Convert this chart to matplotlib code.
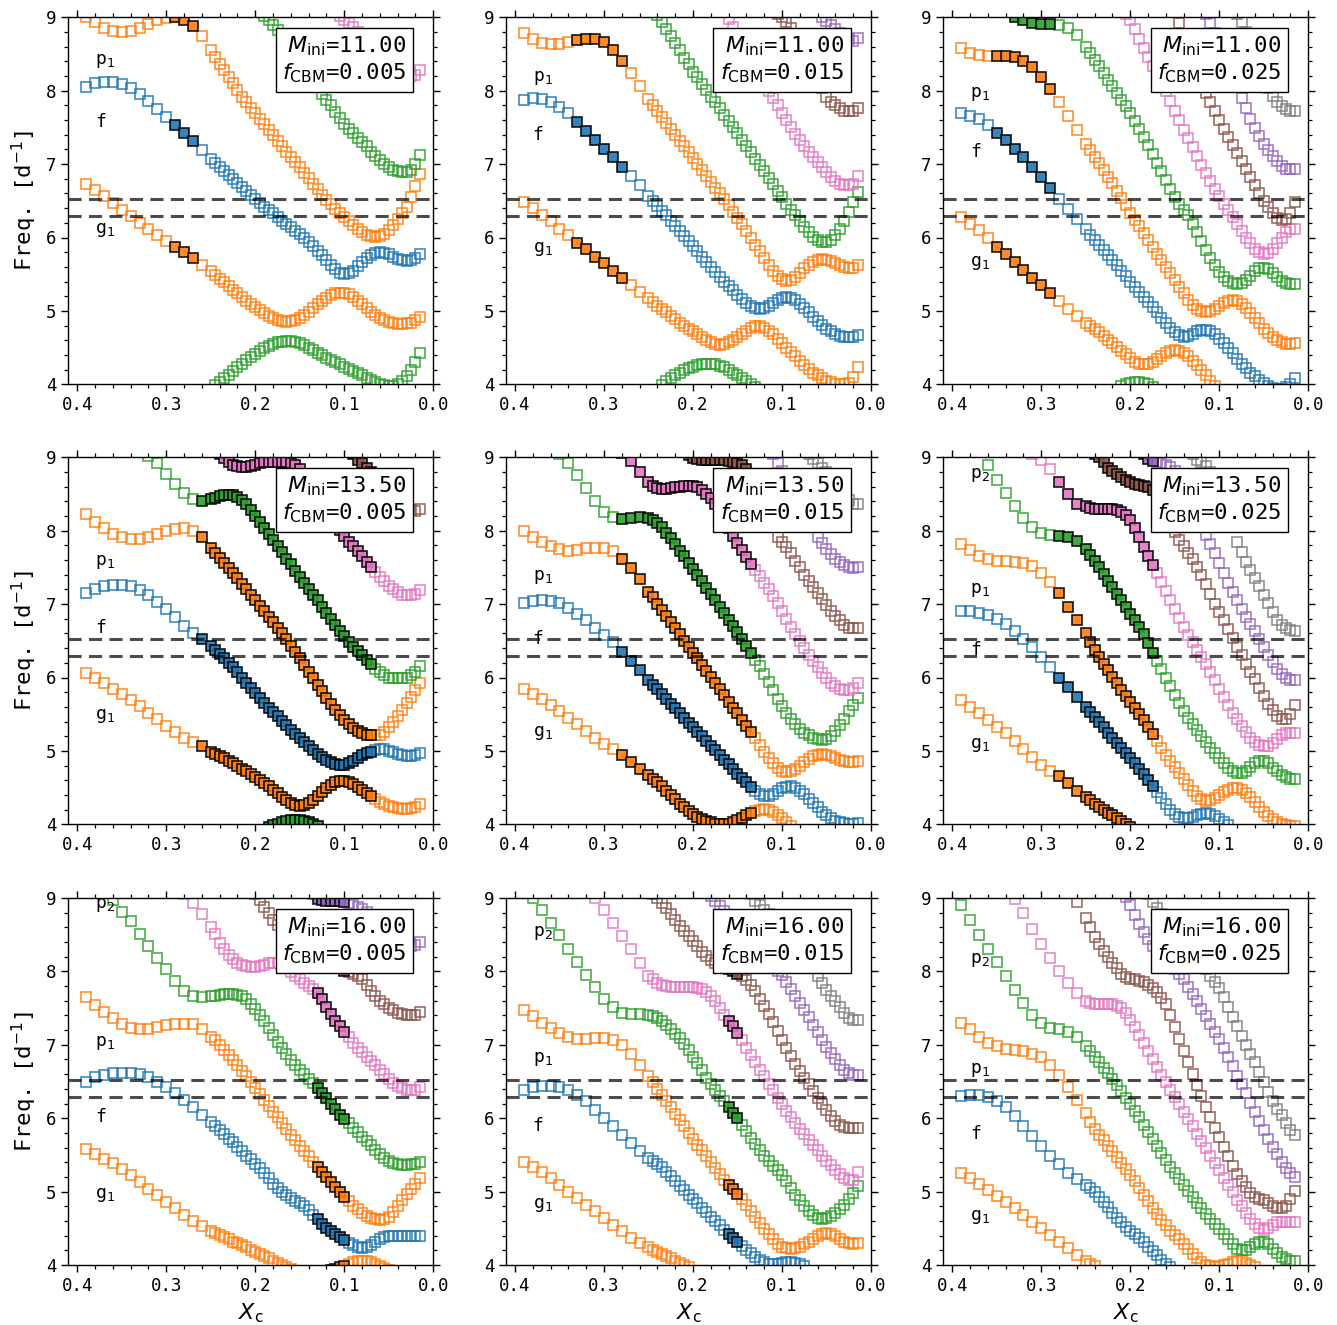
import numpy as np
import matplotlib
matplotlib.use("Agg")
import matplotlib.pyplot as plt
from matplotlib.ticker import MultipleLocator

plt.rcParams['font.family'] = ['DejaVu Sans Mono', 'DejaVu Sans']
plt.rcParams['mathtext.fontset'] = 'dejavusans'

# ---------------- model grid (core hydrogen fraction X_c) ----------------
XC = [0.39, 0.38, 0.37, 0.36, 0.35, 0.34, 0.33, 0.32, 0.31, 0.30, 0.29, 0.28, 0.27, 0.26, 0.25,
      0.245, 0.24, 0.235, 0.23, 0.225, 0.22, 0.215, 0.21, 0.205, 0.20,
      0.195, 0.19, 0.185, 0.18, 0.175, 0.17, 0.165, 0.16, 0.155, 0.15,
      0.145, 0.14, 0.135, 0.13, 0.125, 0.12, 0.115, 0.11, 0.105, 0.10,
      0.095, 0.09, 0.085, 0.08, 0.075, 0.07, 0.065, 0.06, 0.055, 0.05,
      0.045, 0.04, 0.035, 0.03, 0.025, 0.02, 0.015]

OBS_FREQ = [6.52, 6.29]

# ---------------- M=11.00, f=0.005 ----------------
A_g1 = [6.73, 6.65, 6.56, 6.47, 6.38, 6.29, 6.20, 6.11, 6.03, 5.95, 5.87, 5.80, 5.72, 5.63, 5.54,
        5.49, 5.44, 5.39, 5.34, 5.29, 5.24, 5.19, 5.14, 5.10, 5.05,
        5.01, 4.97, 4.93, 4.90, 4.87, 4.86, 4.85, 4.86, 4.88, 4.91,
        4.95, 4.99, 5.04, 5.09, 5.14, 5.18, 5.22, 5.24, 5.25, 5.25,
        5.23, 5.19, 5.14, 5.09, 5.04, 4.99, 4.95, 4.91, 4.88, 4.85,
        4.83, 4.82, 4.82, 4.83, 4.84, 4.87, 4.92]
A_f = [8.05, 8.10, 8.12, 8.12, 8.09, 8.03, 7.95, 7.86, 7.75, 7.64, 7.53, 7.43, 7.31, 7.19, 7.07,
       7.01, 6.96, 6.91, 6.85, 6.80, 6.74, 6.69, 6.63, 6.58, 6.52,
       6.47, 6.42, 6.37, 6.33, 6.28, 6.23, 6.18, 6.14, 6.09, 6.05,
       6.00, 5.94, 5.88, 5.82, 5.76, 5.70, 5.63, 5.57, 5.52, 5.50,
       5.51, 5.55, 5.61, 5.67, 5.72, 5.76, 5.79, 5.80, 5.79, 5.77,
       5.74, 5.71, 5.69, 5.68, 5.69, 5.72, 5.77]
A_p1 = [9.00, 8.93, 8.86, 8.81, 8.80, 8.82, 8.86, 8.91, 8.96, 8.99, 9.00, 8.97, 8.88, 8.74, 8.55,
        8.46, 8.37, 8.28, 8.19, 8.10, 8.01, 7.92, 7.84, 7.77, 7.70,
        7.62, 7.54, 7.47, 7.39, 7.32, 7.25, 7.17, 7.10, 7.03, 6.96,
        6.88, 6.81, 6.73, 6.66, 6.58, 6.51, 6.45, 6.39, 6.33, 6.28,
        6.22, 6.17, 6.12, 6.07, 6.04, 6.02, 6.01, 6.02, 6.05, 6.10,
        6.17, 6.25, 6.33, 6.42, 6.55, 6.70, 6.86]
A_p2 = [9.08, 9.02, 8.96, 8.90, 8.83, 8.76, 8.68, 8.60, 8.52, 8.44,
        8.35, 8.26, 8.16, 8.06, 7.96, 7.88, 7.80, 7.71, 7.63, 7.55,
        7.48, 7.42, 7.36, 7.30, 7.24, 7.17, 7.11, 7.05, 7.00, 6.96,
        6.92, 6.90, 6.89, 6.89, 6.92, 7.00, 7.12]
A_g2 = [3.99, 4.03, 4.08, 4.13, 4.18, 4.23, 4.28, 4.33, 4.37, 4.41,
        4.45, 4.49, 4.52, 4.55, 4.57, 4.58, 4.59, 4.59, 4.58, 4.56,
        4.53, 4.50, 4.47, 4.43, 4.40, 4.36, 4.33, 4.30, 4.27, 4.24,
        4.21, 4.18, 4.15, 4.12, 4.09, 4.06, 4.03, 4.01, 3.99, 3.98,
        3.98, 4.00, 4.05, 4.11, 4.20, 4.30, 4.42]
A_p3 = [9.02, 8.97, 8.92, 8.87, 8.80, 8.73, 8.66, 8.60, 8.53, 8.47,
        8.42, 8.37, 8.32, 8.28, 8.25, 8.22, 8.20, 8.21, 8.28]

# ---------------- M=11.00, f=0.015 ----------------
B_g1 = [6.49, 6.40, 6.31, 6.22, 6.12, 6.03, 5.93, 5.84, 5.74, 5.65, 5.55, 5.45, 5.35, 5.26, 5.17,
        5.12, 5.07, 5.02, 4.98, 4.93, 4.89, 4.84, 4.80, 4.76, 4.72,
        4.68, 4.64, 4.60, 4.57, 4.55, 4.54, 4.55, 4.57, 4.60, 4.64,
        4.68, 4.73, 4.77, 4.79, 4.79, 4.77, 4.73, 4.68, 4.62, 4.56,
        4.50, 4.44, 4.38, 4.32, 4.26, 4.21, 4.16, 4.12, 4.08, 4.05,
        4.03, 4.01, 4.00, 4.00, 4.02, 4.10, 4.24]
B_f = [7.88, 7.90, 7.89, 7.85, 7.78, 7.69, 7.57, 7.45, 7.33, 7.21, 7.09, 6.96, 6.84, 6.71, 6.57,
       6.50, 6.43, 6.36, 6.30, 6.23, 6.16, 6.09, 6.02, 5.95, 5.88,
       5.81, 5.74, 5.67, 5.60, 5.53, 5.46, 5.40, 5.34, 5.28, 5.22,
       5.16, 5.11, 5.07, 5.04, 5.03, 5.04, 5.07, 5.11, 5.15, 5.18,
       5.19, 5.18, 5.15, 5.10, 5.04, 4.98, 4.92, 4.86, 4.81, 4.76,
       4.72, 4.69, 4.66, 4.65, 4.64, 4.65, 4.67]
B_p1 = [8.78, 8.70, 8.65, 8.63, 8.63, 8.66, 8.69, 8.71, 8.71, 8.66, 8.56, 8.41, 8.24, 8.06, 7.89,
        7.80, 7.72, 7.64, 7.56, 7.48, 7.40, 7.32, 7.24, 7.16, 7.08,
        7.00, 6.92, 6.84, 6.76, 6.68, 6.60, 6.52, 6.44, 6.35, 6.27,
        6.18, 6.09, 5.99, 5.90, 5.81, 5.72, 5.63, 5.55, 5.48, 5.43,
        5.41, 5.42, 5.46, 5.52, 5.58, 5.63, 5.67, 5.70, 5.71, 5.70,
        5.68, 5.65, 5.62, 5.60, 5.59, 5.59, 5.62]
B_p2 = [9.03, 8.93, 8.84, 8.74, 8.65, 8.55, 8.45, 8.36, 8.26,
        8.18, 8.09, 8.01, 7.92, 7.84, 7.76, 7.67, 7.59, 7.50, 7.42,
        7.33, 7.25, 7.16, 7.07, 6.99, 6.90, 6.81, 6.73, 6.64, 6.55,
        6.46, 6.38, 6.30, 6.22, 6.14, 6.07, 6.01, 5.96, 5.94, 5.94,
        5.97, 6.03, 6.12, 6.23, 6.35, 6.48, 6.62]
B_g2 = [3.99, 4.04, 4.08, 4.12, 4.16, 4.19, 4.22, 4.24, 4.26, 4.27, 4.28,
        4.28, 4.27, 4.25, 4.23, 4.20, 4.16, 4.12, 4.08, 4.04, 4.00, 3.96]
B_p3 = [9.08, 8.98, 8.87, 8.76, 8.65, 8.54, 8.43, 8.32, 8.21, 8.10, 8.00,
        7.90, 7.80, 7.70, 7.60, 7.50, 7.41, 7.33, 7.25, 7.17, 7.10,
        7.03, 6.96, 6.89, 6.82, 6.77, 6.73, 6.71, 6.71, 6.73, 6.84]
B_p4 = [9.05, 9.00, 8.93, 8.85, 8.77, 8.68, 8.58, 8.47, 8.33, 8.18,
        8.03, 7.92, 7.85, 7.80, 7.76, 7.73, 7.72, 7.72, 7.76]
B_p5 = [9.00, 8.95, 8.90, 8.84, 8.78, 8.73, 8.70, 8.68, 8.72]

# ---------------- M=11.00, f=0.025 ----------------
C_g1 = [6.28, 6.19, 6.10, 6.00, 5.87, 5.77, 5.67, 5.56, 5.45, 5.35, 5.24, 5.13, 5.03, 4.93, 4.84,
        4.80, 4.76, 4.71, 4.66, 4.61, 4.56, 4.51, 4.46, 4.41, 4.36,
        4.31, 4.28, 4.27, 4.28, 4.31, 4.35, 4.39, 4.43, 4.46, 4.47,
        4.46, 4.43, 4.38, 4.32, 4.26, 4.19, 4.12, 4.05, 3.98]
C_f = [7.69, 7.66, 7.61, 7.53, 7.43, 7.33, 7.21, 7.09, 6.96, 6.83, 6.68, 6.53, 6.39, 6.25, 6.11,
       6.04, 5.97, 5.90, 5.83, 5.76, 5.69, 5.62, 5.55, 5.48, 5.40,
       5.33, 5.26, 5.19, 5.12, 5.05, 4.98, 4.91, 4.84, 4.77, 4.71,
       4.67, 4.65, 4.66, 4.69, 4.72, 4.74, 4.74, 4.72, 4.68, 4.62,
       4.56, 4.49, 4.42, 4.35, 4.28, 4.22, 4.16, 4.11, 4.06, 4.02,
       3.98, 3.95, 3.93, 3.93, 3.96, 4.00, 4.08]
C_p1 = [8.58, 8.52, 8.48, 8.47, 8.47, 8.47, 8.46, 8.41, 8.32, 8.19, 8.02, 7.84, 7.65, 7.46, 7.28,
        7.19, 7.10, 7.01, 6.92, 6.83, 6.74, 6.64, 6.54, 6.44, 6.34,
        6.24, 6.15, 6.06, 5.96, 5.87, 5.78, 5.69, 5.60, 5.51, 5.42,
        5.33, 5.24, 5.15, 5.08, 5.03, 5.00, 4.99, 5.00, 5.03, 5.07,
        5.11, 5.14, 5.15, 5.14, 5.10, 5.04, 4.97, 4.90, 4.83, 4.76,
        4.70, 4.65, 4.60, 4.57, 4.55, 4.55, 4.56]
C_p2 = [9.01, 8.96, 8.92, 8.91, 8.91, 8.90, 8.86, 8.76, 8.60,
        8.51, 8.42, 8.33, 8.24, 8.15, 8.06, 7.97, 7.88, 7.79, 7.70,
        7.59, 7.48, 7.37, 7.26, 7.14, 7.02, 6.90, 6.78, 6.66, 6.55,
        6.46, 6.38, 6.30, 6.19, 6.07, 5.95, 5.83, 5.72, 5.62, 5.53,
        5.46, 5.41, 5.38, 5.37, 5.38, 5.42, 5.48, 5.54, 5.58, 5.59,
        5.57, 5.52, 5.46, 5.41, 5.38, 5.37, 5.37]
C_g2 = [3.98, 4.00, 4.02, 4.03, 4.03, 4.02, 4.00, 3.97]
C_p3 = [9.05, 8.96, 8.84, 8.71, 8.58, 8.46, 8.34, 8.23, 8.11, 7.99,
        7.86, 7.73, 7.60, 7.47, 7.35, 7.23, 7.11, 6.99, 6.88, 6.77,
        6.66, 6.56, 6.46, 6.37, 6.28, 6.18, 6.09, 6.00, 5.92, 5.85,
        5.80, 5.78, 5.79, 5.84, 5.92, 6.00, 6.07, 6.11, 6.12]
C_p4 = [9.08, 8.92, 8.76, 8.60, 8.44, 8.28, 8.12, 7.97, 7.84, 7.72,
        7.60, 7.48, 7.37, 7.26, 7.15, 7.04, 6.93, 6.82, 6.71, 6.60,
        6.50, 6.41, 6.33, 6.27, 6.24, 6.25, 6.33, 6.48]
C_p5 = [9.04, 8.92, 8.78, 8.64, 8.50, 8.36, 8.22, 8.06, 7.90, 7.76, 7.62,
        7.49, 7.38, 7.28, 7.19, 7.11, 7.04, 6.98, 6.94, 6.93, 6.93]
C_p6 = [9.05, 8.93, 8.80, 8.66, 8.50, 8.34, 8.18, 8.03, 7.93, 7.85, 7.79, 7.75, 7.73, 7.73]

# ---------------- M=13.50, f=0.005 ----------------
D_g1 = [6.06, 5.99, 5.92, 5.85, 5.77, 5.69, 5.61, 5.52, 5.43, 5.34, 5.26, 5.18, 5.12, 5.07, 4.99,
        4.96, 4.93, 4.90, 4.86, 4.83, 4.79, 4.76, 4.72, 4.69, 4.65,
        4.61, 4.56, 4.52, 4.47, 4.42, 4.37, 4.33, 4.29, 4.26, 4.25,
        4.26, 4.29, 4.33, 4.38, 4.44, 4.50, 4.54, 4.57, 4.59, 4.59,
        4.58, 4.55, 4.51, 4.47, 4.43, 4.39, 4.35, 4.31, 4.28, 4.25,
        4.23, 4.22, 4.21, 4.21, 4.22, 4.24, 4.27]
D_f = [7.15, 7.20, 7.24, 7.26, 7.26, 7.24, 7.19, 7.12, 7.03, 6.93, 6.82, 6.70, 6.60, 6.52, 6.43,
       6.38, 6.32, 6.26, 6.20, 6.14, 6.07, 6.00, 5.93, 5.86, 5.79,
       5.72, 5.65, 5.59, 5.53, 5.47, 5.41, 5.35, 5.29, 5.23, 5.17,
       5.12, 5.06, 5.01, 4.96, 4.92, 4.88, 4.85, 4.82, 4.81, 4.81,
       4.83, 4.86, 4.90, 4.94, 4.97, 4.99, 5.01, 5.02, 5.02, 5.00,
       4.98, 4.96, 4.94, 4.93, 4.93, 4.94, 4.97]
D_p1 = [8.23, 8.12, 8.04, 7.96, 7.91, 7.89, 7.89, 7.91, 7.95, 7.99, 8.02, 8.03, 7.99, 7.92, 7.77,
        7.70, 7.63, 7.56, 7.49, 7.42, 7.35, 7.28, 7.21, 7.13, 7.06,
        6.98, 6.91, 6.83, 6.76, 6.68, 6.60, 6.52, 6.43, 6.35, 6.26,
        6.17, 6.08, 5.99, 5.90, 5.81, 5.72, 5.64, 5.56, 5.49, 5.42,
        5.36, 5.31, 5.27, 5.24, 5.22, 5.21, 5.21, 5.22, 5.26, 5.32,
        5.39, 5.47, 5.56, 5.65, 5.74, 5.83, 5.93]
D_p2 = [9.02, 8.92, 8.77, 8.63, 8.51, 8.43, 8.41, 8.43,
        8.45, 8.47, 8.48, 8.49, 8.48, 8.46, 8.42, 8.36, 8.28, 8.20,
        8.12, 8.04, 7.96, 7.88, 7.79, 7.71, 7.62, 7.54, 7.45, 7.37,
        7.29, 7.21, 7.13, 7.05, 6.96, 6.88, 6.80, 6.72, 6.64, 6.56,
        6.49, 6.42, 6.36, 6.30, 6.24, 6.18, 6.12, 6.07, 6.03, 6.00,
        5.99, 5.99, 5.99, 6.00, 6.03, 6.08, 6.15]
D_g2 = [3.97, 3.99, 4.01, 4.03, 4.05, 4.06, 4.06, 4.06, 4.05, 4.03, 4.01, 3.98]
D_p3 = [9.05, 8.99, 8.94, 8.90, 8.88, 8.87, 8.87, 8.88, 8.90,
        8.92, 8.93, 8.94, 8.94, 8.94, 8.94, 8.93, 8.92, 8.89, 8.84,
        8.77, 8.69, 8.60, 8.51, 8.41, 8.31, 8.20, 8.10, 8.01, 7.93,
        7.85, 7.79, 7.72, 7.65, 7.58, 7.51, 7.44, 7.37, 7.31, 7.25,
        7.20, 7.16, 7.13, 7.12, 7.12, 7.14, 7.19]
D_p4 = [9.05, 8.97, 8.92, 8.86, 8.80, 8.73, 8.66, 8.59, 8.52, 8.46, 8.40, 8.35, 8.31, 8.28, 8.27, 8.30]

# ---------------- M=13.50, f=0.015 ----------------
E_g1 = [5.85, 5.78, 5.71, 5.63, 5.54, 5.45, 5.36, 5.27, 5.18, 5.10, 5.02, 4.94, 4.85, 4.76, 4.67,
        4.62, 4.57, 4.52, 4.46, 4.40, 4.34, 4.28, 4.23, 4.18, 4.14,
        4.10, 4.07, 4.05, 4.03, 4.01, 4.00, 4.00, 4.01, 4.03, 4.06,
        4.09, 4.12, 4.15, 4.18, 4.20, 4.21, 4.20, 4.17, 4.13, 4.08,
        4.03, 3.98]
E_f = [7.02, 7.04, 7.05, 7.04, 7.01, 6.95, 6.87, 6.78, 6.68, 6.58, 6.48, 6.35, 6.22, 6.10, 5.97,
       5.90, 5.84, 5.77, 5.71, 5.64, 5.58, 5.51, 5.45, 5.38, 5.32,
       5.26, 5.20, 5.13, 5.07, 5.01, 4.94, 4.88, 4.82, 4.76, 4.69,
       4.63, 4.57, 4.51, 4.45, 4.41, 4.39, 4.39, 4.41, 4.45, 4.49,
       4.51, 4.52, 4.50, 4.46, 4.41, 4.35, 4.29, 4.23, 4.17, 4.12,
       4.08, 4.05, 4.03, 4.02, 4.01, 4.01, 4.02]
E_p1 = [8.00, 7.92, 7.85, 7.79, 7.75, 7.73, 7.74, 7.76, 7.77, 7.77, 7.73, 7.62, 7.49, 7.34, 7.17,
        7.09, 7.00, 6.92, 6.84, 6.75, 6.67, 6.59, 6.50, 6.42, 6.34,
        6.26, 6.17, 6.09, 6.01, 5.92, 5.84, 5.76, 5.67, 5.59, 5.51,
        5.42, 5.34, 5.26, 5.17, 5.08, 4.99, 4.91, 4.83, 4.77, 4.73,
        4.71, 4.72, 4.75, 4.80, 4.85, 4.89, 4.93, 4.95, 4.96, 4.95,
        4.93, 4.90, 4.87, 4.86, 4.85, 4.85, 4.86]
E_p2 = [9.05, 8.92, 8.76, 8.58, 8.40, 8.25, 8.18, 8.16, 8.17, 8.18, 8.17,
        8.15, 8.11, 8.05, 7.97, 7.90, 7.82, 7.73, 7.65, 7.56, 7.48,
        7.39, 7.31, 7.22, 7.14, 7.05, 6.96, 6.88, 6.79, 6.70, 6.62,
        6.53, 6.43, 6.33, 6.24, 6.15, 6.05, 5.94, 5.83, 5.71, 5.61,
        5.52, 5.43, 5.36, 5.30, 5.25, 5.21, 5.18, 5.16, 5.15, 5.16,
        5.20, 5.27, 5.35, 5.44, 5.54, 5.63, 5.72]
E_p3 = [9.06, 8.95, 8.80, 8.67,
        8.61, 8.58, 8.57, 8.57, 8.58, 8.59, 8.60, 8.61, 8.61, 8.61,
        8.59, 8.55, 8.50, 8.44, 8.36, 8.26, 8.15, 8.04, 7.93, 7.83,
        7.74, 7.64, 7.55, 7.46, 7.38, 7.29, 7.20, 7.11, 7.01, 6.90,
        6.80, 6.69, 6.59, 6.50, 6.40, 6.31, 6.22, 6.14, 6.06, 5.99,
        5.93, 5.88, 5.85, 5.83, 5.83, 5.86, 5.92]
E_p4 = [9.03, 8.99, 8.98, 8.97, 8.97, 8.97, 8.97, 8.96, 8.96, 8.95,
        8.94, 8.92, 8.89, 8.84, 8.77, 8.68, 8.56, 8.42, 8.26, 8.08,
        7.92, 7.85, 7.78, 7.69, 7.59, 7.50, 7.40, 7.32, 7.23, 7.15,
        7.07, 6.99, 6.91, 6.84, 6.78, 6.72, 6.68, 6.67, 6.68]
E_p5 = [9.05, 8.92, 8.82, 8.72, 8.62, 8.52, 8.42, 8.31, 8.19, 8.06,
        7.92, 7.83, 7.75, 7.68, 7.62, 7.57, 7.53, 7.50, 7.49, 7.51]
E_p6 = [9.05, 8.98, 8.92, 8.86, 8.80, 8.73, 8.65, 8.57, 8.49, 8.42, 8.37, 8.36]

# ---------------- M=13.50, f=0.025 ----------------
F_g1 = [5.69, 5.60, 5.51, 5.42, 5.33, 5.24, 5.13, 5.02, 4.92, 4.81, 4.73, 4.66, 4.56, 4.46, 4.37,
        4.33, 4.28, 4.24, 4.20, 4.16, 4.12, 4.08, 4.04, 4.01, 3.97]
F_f = [6.90, 6.90, 6.88, 6.85, 6.80, 6.73, 6.64, 6.53, 6.41, 6.28, 6.14, 6.00, 5.87, 5.74, 5.60,
       5.53, 5.46, 5.39, 5.32, 5.25, 5.18, 5.11, 5.04, 4.97, 4.90,
       4.83, 4.75, 4.68, 4.60, 4.52, 4.44, 4.36, 4.28, 4.20, 4.14,
       4.10, 4.08, 4.08, 4.10, 4.12, 4.14, 4.15, 4.14, 4.11, 4.07,
       4.03, 3.99]
F_p1 = [7.82, 7.74, 7.65, 7.61, 7.59, 7.59, 7.58, 7.56, 7.52, 7.42, 7.30, 7.15, 6.96, 6.78, 6.60,
        6.48, 6.37, 6.28, 6.19, 6.10, 6.01, 5.92, 5.83, 5.75, 5.66,
        5.58, 5.50, 5.42, 5.33, 5.23, 5.13, 5.04, 4.95, 4.86, 4.78,
        4.70, 4.62, 4.54, 4.46, 4.39, 4.34, 4.32, 4.33, 4.36, 4.40,
        4.44, 4.47, 4.49, 4.49, 4.47, 4.43, 4.37, 4.30, 4.23, 4.17,
        4.11, 4.07, 4.03, 4.01, 3.99, 3.98, 3.98]
F_p2 = [9.08, 8.90, 8.69, 8.51, 8.33, 8.17, 8.05, 7.97, 7.94, 7.93, 7.91, 7.86, 7.75,
        7.67, 7.59, 7.50, 7.41, 7.32, 7.23, 7.14, 7.05, 6.96, 6.87,
        6.78, 6.69, 6.59, 6.47, 6.33, 6.22, 6.12, 6.00, 5.88, 5.76,
        5.65, 5.55, 5.45, 5.36, 5.28, 5.20, 5.12, 5.04, 4.97, 4.90,
        4.83, 4.77, 4.72, 4.70, 4.70, 4.73, 4.78, 4.83, 4.86, 4.86,
        4.83, 4.77, 4.72, 4.67, 4.64, 4.62, 4.62]
F_p3 = [9.05, 8.97, 8.84, 8.67, 8.50, 8.37, 8.33,
        8.31, 8.30, 8.30, 8.30, 8.30, 8.29, 8.28, 8.25, 8.21, 8.14,
        8.04, 7.92, 7.78, 7.65, 7.53, 7.42, 7.30, 7.18, 7.06, 6.94,
        6.81, 6.69, 6.58, 6.48, 6.38, 6.28, 6.18, 6.07, 5.96, 5.85,
        5.74, 5.63, 5.52, 5.43, 5.34, 5.26, 5.18, 5.12, 5.08, 5.06,
        5.07, 5.11, 5.16, 5.21, 5.24, 5.25, 5.25]
F_p4 = [9.05, 9.00, 8.93, 8.86, 8.81, 8.77, 8.73, 8.69, 8.66,
        8.64, 8.62, 8.61, 8.59, 8.55, 8.48, 8.38, 8.26, 8.12, 7.98,
        7.88, 7.79, 7.70, 7.61, 7.51, 7.39, 7.27, 7.14, 7.00, 6.89,
        6.78, 6.66, 6.54, 6.42, 6.30, 6.19, 6.08, 5.98, 5.86, 5.75,
        5.64, 5.56, 5.48, 5.43, 5.43, 5.50, 5.62]
F_p5 = [9.05, 8.98, 8.95, 8.93, 8.92, 8.90, 8.87, 8.82,
        8.74, 8.64, 8.52, 8.39, 8.24, 8.08, 7.94, 7.82, 7.70, 7.56,
        7.42, 7.29, 7.17, 7.05, 6.93, 6.83, 6.73, 6.63, 6.53, 6.42,
        6.31, 6.21, 6.12, 6.05, 6.00, 5.97, 5.97]
F_p6 = [9.05, 8.97, 8.93, 8.88, 8.80, 8.69, 8.55, 8.39, 8.22, 8.05, 7.85, 7.71,
        7.58, 7.46, 7.35, 7.24, 7.12, 7.01, 6.89, 6.79, 6.72, 6.68, 6.65, 6.64]

# ---------------- M=16.00, f=0.005 ----------------
G_g1 = [5.58, 5.51, 5.45, 5.39, 5.31, 5.22, 5.13, 5.04, 4.95, 4.86, 4.77, 4.68, 4.60, 4.53, 4.47,
        4.44, 4.41, 4.38, 4.35, 4.32, 4.30, 4.27, 4.24, 4.21, 4.18,
        4.15, 4.12, 4.09, 4.06, 4.03, 4.00, 3.97, 3.94, 3.92, 3.90,
        3.89, 3.88, 3.88, 3.89, 3.90, 3.91, 3.93, 3.95, 3.97, 3.99,
        4.02, 4.04, 4.05, 4.06, 4.05, 4.04, 4.02, 3.99, 3.96, 3.93,
        3.90, 3.88, 3.86, 3.85, 3.85, 3.86, 3.88]
G_f = [6.50, 6.56, 6.59, 6.61, 6.62, 6.62, 6.60, 6.56, 6.50, 6.43, 6.34, 6.25, 6.15, 6.05, 5.95,
       5.90, 5.84, 5.78, 5.72, 5.67, 5.61, 5.55, 5.49, 5.44, 5.38,
       5.32, 5.25, 5.18, 5.11, 5.05, 5.00, 4.96, 4.91, 4.87, 4.84,
       4.80, 4.75, 4.68, 4.62, 4.56, 4.51, 4.46, 4.42, 4.38, 4.34,
       4.30, 4.27, 4.24, 4.23, 4.24, 4.27, 4.31, 4.35, 4.38, 4.40,
       4.40, 4.40, 4.39, 4.39, 4.39, 4.39, 4.40]
G_p1 = [7.65, 7.54, 7.45, 7.36, 7.28, 7.23, 7.21, 7.22, 7.24, 7.27, 7.29, 7.29, 7.28, 7.21, 7.11,
        7.06, 7.00, 6.93, 6.86, 6.79, 6.72, 6.64, 6.57, 6.49, 6.41,
        6.33, 6.25, 6.17, 6.09, 6.01, 5.93, 5.85, 5.77, 5.70, 5.62,
        5.55, 5.48, 5.41, 5.34, 5.27, 5.20, 5.13, 5.06, 4.99, 4.93,
        4.87, 4.81, 4.76, 4.71, 4.67, 4.64, 4.62, 4.61, 4.62, 4.66,
        4.72, 4.80, 4.89, 4.97, 5.04, 5.11, 5.19]
G_p2 = [9.08, 8.97, 8.81, 8.68, 8.51, 8.35, 8.18, 8.03, 7.87, 7.73, 7.67, 7.65, 7.66,
        7.67, 7.68, 7.69, 7.69, 7.69, 7.68, 7.66, 7.62, 7.56, 7.49,
        7.41, 7.32, 7.23, 7.14, 7.04, 6.95, 6.87, 6.79, 6.72, 6.66,
        6.60, 6.54, 6.48, 6.41, 6.34, 6.27, 6.19, 6.12, 6.05, 5.99,
        5.93, 5.87, 5.81, 5.75, 5.69, 5.63, 5.57, 5.51, 5.46, 5.42,
        5.39, 5.37, 5.36, 5.36, 5.37, 5.38, 5.41]
G_p3 = [9.05, 8.93, 8.78, 8.61,
        8.51, 8.39, 8.30, 8.23, 8.17, 8.12, 8.09, 8.07, 8.06, 8.06,
        8.07, 8.09, 8.11, 8.12, 8.11, 8.08, 8.04, 7.99, 7.94, 7.89,
        7.84, 7.80, 7.76, 7.70, 7.62, 7.52, 7.42, 7.33, 7.25, 7.18,
        7.11, 7.03, 6.96, 6.90, 6.84, 6.78, 6.72, 6.66, 6.60, 6.54,
        6.48, 6.44, 6.41, 6.39, 6.38, 6.39, 6.43]
G_p4 = [9.05, 8.97, 8.88, 8.79, 8.70, 8.63, 8.57, 8.52, 8.47, 8.42,
        8.38, 8.34, 8.30, 8.26, 8.22, 8.18, 8.14, 8.10, 8.07, 8.04,
        8.01, 7.99, 7.97, 7.94, 7.89, 7.81, 7.73, 7.66, 7.60, 7.55,
        7.50, 7.47, 7.44, 7.42, 7.41, 7.40, 7.41, 7.45]
G_p5 = [9.05, 8.99, 8.97, 8.96, 8.96, 8.96, 8.96, 8.95, 8.93, 8.91, 8.88, 8.85, 8.81,
        8.76, 8.71, 8.65, 8.59, 8.53, 8.48, 8.43, 8.39, 8.36, 8.35, 8.36, 8.40]

# ---------------- M=16.00, f=0.015 ----------------
H_g1 = [5.41, 5.34, 5.27, 5.18, 5.09, 5.00, 4.91, 4.82, 4.73, 4.64, 4.55, 4.46, 4.37, 4.30, 4.24,
        4.21, 4.18, 4.15, 4.12, 4.09, 4.06, 4.03, 4.00, 3.97]
H_f = [6.39, 6.42, 6.44, 6.44, 6.43, 6.39, 6.32, 6.23, 6.11, 6.00, 5.89, 5.77, 5.66, 5.55, 5.46,
       5.42, 5.38, 5.33, 5.27, 5.21, 5.15, 5.08, 5.02, 4.96, 4.90,
       4.84, 4.78, 4.72, 4.66, 4.60, 4.54, 4.48, 4.42, 4.37, 4.32,
       4.26, 4.21, 4.16, 4.11, 4.07, 4.04, 4.02, 4.01, 4.02, 4.03,
       4.04, 4.04, 4.03, 4.01, 3.98]
H_p1 = [7.48, 7.39, 7.30, 7.23, 7.16, 7.11, 7.08, 7.08, 7.09, 7.09, 7.07, 7.00, 6.88, 6.73, 6.58,
        6.49, 6.40, 6.32, 6.23, 6.15, 6.06, 5.98, 5.89, 5.80, 5.72,
        5.64, 5.56, 5.48, 5.40, 5.32, 5.24, 5.16, 5.09, 5.03, 4.97,
        4.90, 4.82, 4.73, 4.65, 4.57, 4.49, 4.42, 4.35, 4.29, 4.25,
        4.23, 4.22, 4.23, 4.25, 4.28, 4.32, 4.36, 4.40, 4.42, 4.43,
        4.42, 4.39, 4.35, 4.32, 4.30, 4.29, 4.30]
H_p2 = [9.12, 9.00, 8.84, 8.66, 8.49, 8.30, 8.13, 7.95, 7.79, 7.63, 7.51, 7.44, 7.42, 7.42, 7.41,
        7.39, 7.36, 7.32, 7.27, 7.21, 7.15, 7.09, 7.01, 6.93, 6.84,
        6.75, 6.65, 6.55, 6.46, 6.38, 6.30, 6.23, 6.15, 6.07, 6.00,
        5.91, 5.82, 5.73, 5.65, 5.57, 5.49, 5.42, 5.35, 5.29, 5.22,
        5.14, 5.05, 4.96, 4.88, 4.81, 4.74, 4.68, 4.64, 4.63, 4.64,
        4.67, 4.71, 4.76, 4.82, 4.90, 4.98, 5.07]
H_p3 = [9.10, 9.00, 8.84, 8.66, 8.48, 8.30, 8.11, 7.94,
        7.89, 7.84, 7.81, 7.80, 7.79, 7.79, 7.79, 7.79, 7.79, 7.79,
        7.78, 7.76, 7.72, 7.66, 7.59, 7.50, 7.41, 7.33, 7.25, 7.16,
        7.06, 6.96, 6.86, 6.76, 6.66, 6.57, 6.47, 6.38, 6.28, 6.19,
        6.10, 6.02, 5.93, 5.85, 5.78, 5.70, 5.63, 5.56, 5.49, 5.42,
        5.36, 5.30, 5.24, 5.19, 5.16, 5.16, 5.27]
H_p4 = [9.12,
        9.06, 9.00, 8.93, 8.86, 8.78, 8.70, 8.62, 8.55, 8.48, 8.41,
        8.34, 8.27, 8.21, 8.16, 8.12, 8.09, 8.06, 8.03, 8.00, 7.97,
        7.94, 7.88, 7.81, 7.73, 7.63, 7.53, 7.42, 7.31, 7.19, 7.07,
        6.96, 6.85, 6.74, 6.64, 6.55, 6.46, 6.37, 6.28, 6.19, 6.11,
        6.03, 5.96, 5.91, 5.88, 5.86, 5.86, 5.86]
H_p5 = [9.03, 8.96, 8.89, 8.82, 8.75, 8.68, 8.61,
        8.54, 8.47, 8.40, 8.33, 8.26, 8.19, 8.12, 8.06, 8.00, 7.95,
        7.86, 7.76, 7.66, 7.57, 7.48, 7.38, 7.27, 7.17, 7.06, 6.97,
        6.89, 6.81, 6.73, 6.66, 6.61, 6.59, 6.59]
H_p6 = [9.05, 8.96, 8.90, 8.84, 8.78, 8.72, 8.66, 8.60, 8.54, 8.47, 8.40, 8.32, 8.24,
        8.15, 8.05, 7.94, 7.84, 7.75, 7.67, 7.59, 7.51, 7.43, 7.37, 7.34, 7.34]

# ---------------- M=16.00, f=0.025 ----------------
I_g1 = [5.26, 5.18, 5.10, 5.02, 4.94, 4.86, 4.77, 4.68, 4.59, 4.50, 4.41, 4.32, 4.23, 4.14, 4.06,
        4.02, 3.98]
I_f = [6.30, 6.31, 6.31, 6.29, 6.24, 6.15, 6.03, 5.89, 5.76, 5.62, 5.49, 5.37, 5.26, 5.17, 5.09,
       5.05, 4.99, 4.93, 4.86, 4.79, 4.71, 4.64, 4.58, 4.52, 4.47,
       4.42, 4.37, 4.31, 4.25, 4.19, 4.13, 4.07, 4.02, 3.97]
I_p1 = [7.30, 7.21, 7.11, 7.02, 6.98, 6.94, 6.93, 6.91, 6.88, 6.83, 6.73, 6.59, 6.43, 6.25, 6.07,
        5.95, 5.85, 5.77, 5.70, 5.62, 5.55, 5.47, 5.39, 5.31, 5.23,
        5.14, 5.05, 4.96, 4.87, 4.78, 4.69, 4.61, 4.54, 4.47, 4.41,
        4.35, 4.29, 4.22, 4.15, 4.09, 4.04, 4.00, 3.98, 3.97, 3.98,
        4.00, 4.02, 4.04, 4.05, 4.05, 4.03, 4.00, 3.97]
I_p2 = [8.91, 8.70, 8.50, 8.30, 8.13, 7.94, 7.75, 7.57, 7.41, 7.30, 7.23, 7.21, 7.17, 7.11, 6.99,
        6.91, 6.84, 6.76, 6.68, 6.61, 6.53, 6.45, 6.37, 6.28, 6.19,
        6.10, 6.01, 5.91, 5.81, 5.71, 5.62, 5.53, 5.43, 5.34, 5.25,
        5.17, 5.09, 5.01, 4.93, 4.85, 4.77, 4.70, 4.63, 4.56, 4.49,
        4.42, 4.35, 4.28, 4.22, 4.20, 4.21, 4.25, 4.29, 4.31, 4.31,
        4.28, 4.22, 4.16, 4.11, 4.08, 4.06, 4.05]
I_p3 = [9.10, 8.99, 8.80, 8.58, 8.38, 8.18, 8.00, 7.84, 7.70, 7.60,
        7.57, 7.56, 7.56, 7.56, 7.55, 7.55, 7.53, 7.50, 7.43, 7.34,
        7.24, 7.13, 7.02, 6.91, 6.80, 6.70, 6.59, 6.49, 6.39, 6.29,
        6.19, 6.09, 5.99, 5.89, 5.79, 5.69, 5.59, 5.49, 5.39, 5.29,
        5.19, 5.09, 4.99, 4.89, 4.80, 4.71, 4.63, 4.56, 4.50, 4.48,
        4.50, 4.55, 4.58, 4.59, 4.59, 4.58, 4.58]
I_p4 = [9.10, 8.95, 8.73,
        8.60, 8.47, 8.37, 8.28, 8.19, 8.11, 8.04, 7.97, 7.92, 7.90,
        7.89, 7.87, 7.85, 7.82, 7.78, 7.72, 7.64, 7.55, 7.40, 7.24,
        7.08, 6.92, 6.76, 6.60, 6.45, 6.30, 6.15, 6.01, 5.86, 5.74,
        5.61, 5.48, 5.35, 5.24, 5.14, 5.06, 4.98, 4.93, 4.90, 4.88,
        4.85, 4.81, 4.78, 4.77, 4.80, 4.90, 5.01]
I_p5 = [9.10, 9.02, 8.91,
        8.77, 8.65, 8.54, 8.44, 8.35, 8.28, 8.21, 8.15, 8.09, 8.03,
        7.97, 7.90, 7.79, 7.69, 7.59, 7.49, 7.39, 7.29, 7.18, 7.08,
        6.96, 6.84, 6.71, 6.58, 6.46, 6.34, 6.21, 6.08, 5.96, 5.84,
        5.72, 5.61, 5.51, 5.41, 5.32, 5.25, 5.20]
I_p6 = [9.05, 8.95, 8.87, 8.78, 8.70, 8.62, 8.54,
        8.46, 8.39, 8.32, 8.25, 8.18, 8.11, 8.03, 7.94, 7.86, 7.78,
        7.65, 7.51, 7.38, 7.25, 7.12, 7.00, 6.88, 6.76, 6.63, 6.50,
        6.36, 6.23, 6.13, 6.04, 5.93, 5.84, 5.77]

# ---------------- panel table ----------------
C_BLUE, C_ORANGE, C_GREEN = '#1f77b4', '#ff7f0e', '#2ca02c'
C_PINK, C_BROWN, C_PURPLE, C_GRAY = '#e377c2', '#8c564b', '#9467bd', '#7f7f7f'

PANELS = [
    dict(mass='11.00', fcbm='0.005', fill=(0.27, 0.29),
         labels=[('p$_1$', 8.40), ('f', 7.58), ('g$_1$', 6.10)],
         series=[(A_g1, 0.39, C_ORANGE), (A_f, 0.39, C_BLUE), (A_p1, 0.39, C_ORANGE),
                 (A_p2, 0.195, C_GREEN), (A_g2, 0.245, C_GREEN), (A_p3, 0.105, C_PINK)]),
    dict(mass='11.00', fcbm='0.015', fill=(0.28, 0.33),
         labels=[('p$_1$', 8.17), ('f', 7.40), ('g$_1$', 5.85)],
         series=[(B_g1, 0.39, C_ORANGE), (B_f, 0.39, C_BLUE), (B_p1, 0.39, C_ORANGE),
                 (B_p2, 0.24, C_GREEN), (B_g2, 0.235, C_GREEN), (B_p3, 0.165, C_PINK),
                 (B_p4, 0.105, C_BROWN), (B_p5, 0.055, C_PURPLE)]),
    dict(mass='11.00', fcbm='0.025', fill=(0.29, 0.35),
         labels=[('p$_1$', 7.96), ('f', 7.17), ('g$_1$', 5.65)],
         series=[(C_g1, 0.39, C_ORANGE), (C_f, 0.39, C_BLUE), (C_p1, 0.39, C_ORANGE),
                 (C_p2, 0.33, C_GREEN), (C_g2, 0.21, C_GREEN), (C_p3, 0.205, C_PINK),
                 (C_p4, 0.15, C_BROWN), (C_p5, 0.115, C_PURPLE), (C_p6, 0.08, C_GRAY)]),
    dict(mass='13.50', fcbm='0.005', fill=(0.07, 0.26),
         labels=[('p$_1$', 7.58), ('f', 6.67), ('g$_1$', 5.47)],
         series=[(D_g1, 0.39, C_ORANGE), (D_f, 0.39, C_BLUE), (D_p1, 0.39, C_ORANGE),
                 (D_p2, 0.32, C_GREEN), (D_g2, 0.185, C_GREEN), (D_p3, 0.24, C_PINK),
                 (D_p4, 0.09, C_BROWN)]),
    dict(mass='13.50', fcbm='0.015', fill=(0.135, 0.28),
         labels=[('p$_1$', 7.37), ('f', 6.53), ('g$_1$', 5.24)],
         series=[(E_g1, 0.39, C_ORANGE), (E_f, 0.39, C_BLUE), (E_p1, 0.39, C_ORANGE),
                 (E_p2, 0.35, C_GREEN), (E_p3, 0.28, C_PINK), (E_p4, 0.205, C_BROWN),
                 (E_p5, 0.11, C_PURPLE), (E_p6, 0.07, C_GRAY)]),
    dict(mass='13.50', fcbm='0.025', fill=(0.175, 0.28),
         labels=[('p$_2$', 8.76), ('p$_1$', 7.19), ('f', 6.37), ('g$_1$', 5.08)],
         series=[(F_g1, 0.39, C_ORANGE), (F_f, 0.39, C_BLUE), (F_p1, 0.39, C_ORANGE),
                 (F_p2, 0.37, C_GREEN), (F_p3, 0.31, C_PINK), (F_p4, 0.24, C_BROWN),
                 (F_p5, 0.185, C_PURPLE), (F_p6, 0.13, C_GRAY)]),
    dict(mass='16.00', fcbm='0.005', fill=(0.10, 0.13),
         labels=[('p$_2$', 8.90), ('p$_1$', 7.02), ('f', 6.01), ('g$_1$', 4.96)],
         series=[(G_g1, 0.39, C_ORANGE), (G_f, 0.39, C_BLUE), (G_p1, 0.39, C_ORANGE),
                 (G_p2, 0.37, C_GREEN), (G_p3, 0.28, C_PINK), (G_p4, 0.20, C_BROWN),
                 (G_p5, 0.135, C_PURPLE)]),
    dict(mass='16.00', fcbm='0.015', fill=(0.15, 0.16),
         labels=[('p$_2$', 8.52), ('p$_1$', 6.80), ('f', 5.89), ('g$_1$', 4.82)],
         series=[(H_g1, 0.39, C_ORANGE), (H_f, 0.39, C_BLUE), (H_p1, 0.39, C_ORANGE),
                 (H_p2, 0.39, C_GREEN), (H_p3, 0.32, C_PINK), (H_p4, 0.25, C_BROWN),
                 (H_p5, 0.18, C_PURPLE), (H_p6, 0.135, C_GRAY)]),
    dict(mass='16.00', fcbm='0.025', fill=None,
         labels=[('p$_2$', 8.16), ('p$_1$', 6.66), ('f', 5.78), ('g$_1$', 4.65)],
         series=[(I_g1, 0.39, C_ORANGE), (I_f, 0.39, C_BLUE), (I_p1, 0.39, C_ORANGE),
                 (I_p2, 0.39, C_GREEN), (I_p3, 0.34, C_PINK), (I_p4, 0.27, C_BROWN),
                 (I_p5, 0.21, C_PURPLE), (I_p6, 0.18, C_GRAY)]),
]

LABEL_XC = 0.38

# ---------------- drawing ----------------
W, H = 1337, 1325
fig = plt.figure(figsize=(W / 100, H / 100), dpi=100)

lefts = [68.3, 506.0, 943.3]
tops = [17.3, 457.3, 898.0]
aw, ah = 365.0, 367.0

xc_arr = np.array(XC)
MS, MEW = 7.3, 1.2

for k, p in enumerate(PANELS):
    r, c = divmod(k, 3)
    ax = fig.add_axes([lefts[c] / W, 1 - (tops[r] + ah) / H, aw / W, ah / H])
    for vals, start, col in p['series']:
        i0 = int(np.argmin(np.abs(xc_arr - start)))
        n = min(len(vals), len(XC) - i0)
        x = xc_arr[i0:i0 + n]
        y = np.array(vals[:n], dtype=float)
        if p['fill'] is not None:
            lo, hi = p['fill']
            m = (x >= lo - 1e-9) & (x <= hi + 1e-9)
        else:
            m = np.zeros_like(x, dtype=bool)
        ax.plot(x[~m], y[~m], ls='none', marker='s', ms=MS, mfc='none',
                mec=col, mew=MEW, alpha=0.85, zorder=2)
        if m.any():
            ax.plot(x[m], y[m], ls='none', marker='s', ms=MS, mfc=col,
                    mec='k', mew=MEW, alpha=0.9, zorder=2.5)
    for fobs in OBS_FREQ:
        ax.axhline(fobs, color='k', alpha=0.7, lw=2.2, ls=(0, (4.3, 2.4)), zorder=3)
    for txt, yv in p['labels']:
        ax.text(LABEL_XC, yv, txt, ha='left', va='center', fontsize=13, zorder=4)
    ax.text(0.926, 0.953, '$M_{\\rm ini}$=' + p['mass'] + '\n$f_{\\rm CBM}$=' + p['fcbm'],
            transform=ax.transAxes, ha='right', va='top', fontsize=16, zorder=5,
            bbox=dict(boxstyle='square,pad=0.3', fc='white', ec='black', lw=1.0))

    ax.set_xlim(0.41, 0.0)
    ax.set_ylim(4, 9)
    ax.xaxis.set_minor_locator(MultipleLocator(0.02))
    ax.yaxis.set_major_locator(MultipleLocator(1))
    ax.yaxis.set_minor_locator(MultipleLocator(0.2))
    ax.set_xticks([0.4, 0.3, 0.2, 0.1, 0.0])
    ax.set_xticklabels(['0.4', '0.3', '0.2', '0.1', '0.0'])
    ax.tick_params(which='both', direction='out', top=True, right=True, labelsize=12.5)
    ax.tick_params(which='major', length=5, width=1)
    ax.tick_params(which='minor', length=3.2, width=0.9)
    for s in ax.spines.values():
        s.set_linewidth(1.0)
    if c == 0:
        ax.set_ylabel('Freq. [d$^{-1}$]', fontsize=16, labelpad=5)
    if r == 2:
        ax.set_xlabel('$X_{\\rm c}$', fontsize=16, labelpad=5)

fig.savefig('out.png', dpi=100)
